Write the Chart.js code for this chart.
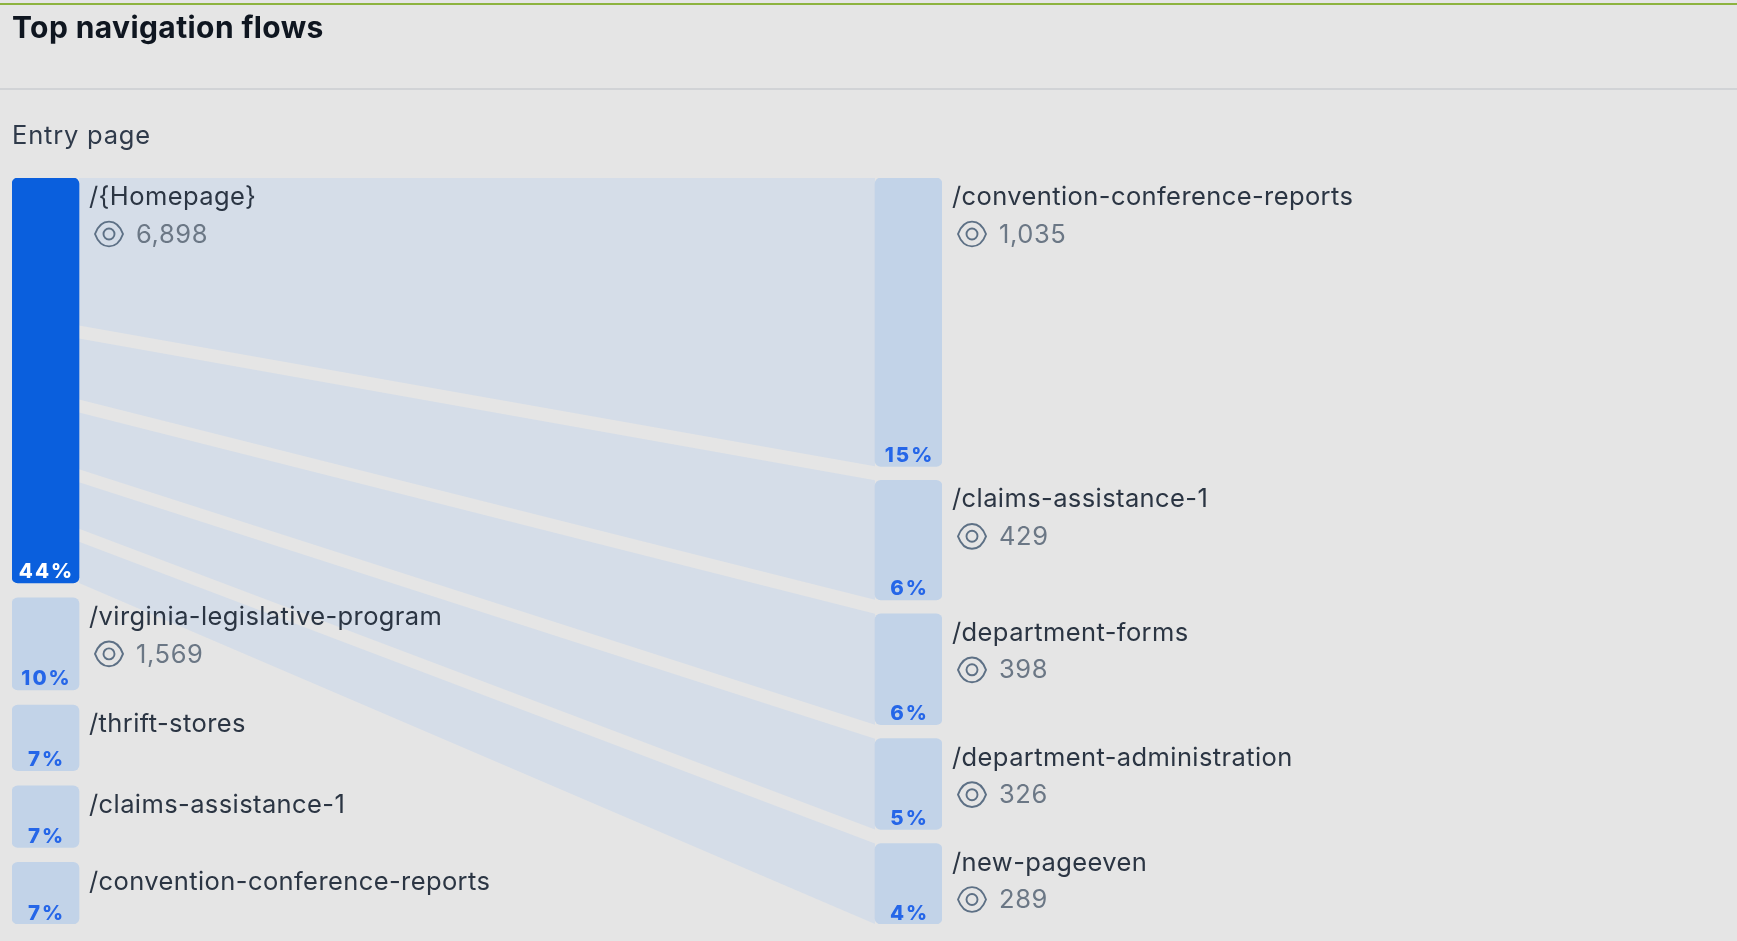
<!DOCTYPE html>
<html>
<head>
<meta charset="utf-8">
<script src="https://cdn.jsdelivr.net/npm/chart.js@4"></script>
<style>
  html, body { margin: 0; padding: 0; width: 1737px; height: 941px; overflow: hidden; background: #e5e5e5; }
  body { position: relative; font-family: Inter, "Noto Sans", sans-serif; }
  #accent { position: absolute; left: 0; top: 3px; width: 100%; height: 1.5px; background: #8db33f; }
  #title { position: absolute; left: 12px; top: 7px; font: 700 30px/40px Inter, sans-serif; letter-spacing: 0.4px; color: #0f1620; filter: blur(0.4px); }
  #rule { position: absolute; left: 0; top: 88px; width: 100%; height: 1.5px; background: #d1d3d6; }
  #subtitle { position: absolute; left: 12px; top: 118px; font: 400 25.5px/34px Inter, sans-serif; letter-spacing: 0.8px; color: #2f3a4a; filter: blur(0.4px); }
  canvas { position: absolute; left: 0; top: 0; filter: blur(0.4px); }
</style>
</head>
<body>
<div id="accent"></div>
<div id="title">Top navigation flows</div>
<div id="rule"></div>
<div id="subtitle">Entry page</div>
<canvas id="c" width="1737" height="941"></canvas>
<script>
const entryPages = ['/{Homepage}', '/virginia-legislative-program', '/thrift-stores', '/claims-assistance-1', '/convention-conference-reports'];
const entryViews = [6898, 1569, 1120, 1050, 1050];
const entryShares = ['44%', '10%', '7%', '7%', '7%'];
const nextPages = ['/convention-conference-reports', '/claims-assistance-1', '/department-forms', '/department-administration', '/new-pageeven'];
const nextViews = [1035, 429, 398, 326, 289];
const nextShares = ['15%', '6%', '6%', '5%', '4%'];

const BAR_W = 67, ENTRY_GAP_PX = 15, NEXT_GAP_PX = 14, FLOW_GAP_PX = 13;
const AREA = { left: 12, right: 942, top: 178, bottom: 924 };
const AREA_H = AREA.bottom - AREA.top;
const STEP_PX = (AREA.right - AREA.left) - BAR_W;
const X_PAD = (BAR_W / 2) / STEP_PX;

const sum = a => a.reduce((s, v) => s + v, 0);

function stackColumn(views, gapPx) {
  const perPx = sum(views) / (AREA_H - gapPx * (views.length - 1));
  const gap = gapPx * perPx;
  const out = []; let pos = 0;
  views.forEach(v => { out.push([pos, pos + v]); pos += v + gap; });
  return { spans: out, max: pos - gap, perPx };
}
const entryCol = stackColumn(entryViews, ENTRY_GAP_PX);
const nextCol = stackColumn(nextViews, NEXT_GAP_PX);

const C_HOME = '#0a5fdd', C_NODE = '#c2d3e8', C_FLOW = '#d5dde8';

const datasets = [];
entryCol.spans.forEach((sp, i) => datasets.push({
  type: 'bar', order: 0, yAxisID: 'yEntry', grouped: false,
  data: [{ x: 0, y: sp }], barThickness: BAR_W, borderRadius: 6, borderSkipped: false,
  backgroundColor: i === 0 ? C_HOME : C_NODE,
  nodeLabel: entryPages[i], nodeViews: entryViews[i], nodeShare: entryShares[i], active: i === 0
}));
nextCol.spans.forEach((sp, i) => datasets.push({
  type: 'bar', order: 0, yAxisID: 'yNext', grouped: false,
  data: [{ x: 1, y: sp }], barThickness: BAR_W, borderRadius: 6, borderSkipped: false,
  backgroundColor: C_NODE,
  nodeLabel: nextPages[i], nodeViews: nextViews[i], nodeShare: nextShares[i], active: false
}));

// flows: leave the homepage bar (its share of the bar) and land on each next-page bar
const homeHeightInNext = entryViews[0] / entryCol.perPx * nextCol.perPx;
const flowGap = FLOW_GAP_PX * nextCol.perPx;
const flowScale = (homeHeightInNext - flowGap * (nextViews.length - 1)) / sum(nextViews);
let flowPos = 0;
nextCol.spans.forEach((sp, i) => {
  const h = nextViews[i] * flowScale;
  const xa = X_PAD, xb = 1 - X_PAD;
  datasets.push({ type: 'line', order: 1, yAxisID: 'yNext', pointRadius: 0, borderWidth: 0, fill: false,
    data: [{ x: xa, y: flowPos }, { x: xb, y: sp[0] }] });
  datasets.push({ type: 'line', order: 1, yAxisID: 'yNext', pointRadius: 0, borderWidth: 0, fill: '-1',
    backgroundColor: C_FLOW,
    data: [{ x: xa, y: flowPos + h }, { x: xb, y: sp[1] }] });
  flowPos += h + flowGap;
});

function eye(ctx, cx, cy) {
  ctx.save();
  ctx.strokeStyle = '#5d7085'; ctx.lineWidth = 1.9;
  ctx.beginPath();
  ctx.moveTo(cx - 14, cy);
  ctx.bezierCurveTo(cx - 8, cy - 16.5, cx + 8, cy - 16.5, cx + 14, cy);
  ctx.bezierCurveTo(cx + 8, cy + 16.5, cx - 8, cy + 16.5, cx - 14, cy);
  ctx.closePath(); ctx.stroke();
  ctx.beginPath(); ctx.arc(cx, cy, 5.5, 0, Math.PI * 2); ctx.stroke();
  ctx.restore();
}

const nodeLabels = {
  id: 'nodeLabels',
  afterDatasetsDraw(chart) {
    const ctx = chart.ctx;
    chart.data.datasets.forEach((ds, i) => {
      if (ds.type !== 'bar') return;
      const el = chart.getDatasetMeta(i).data[0];
      const top = Math.min(el.y, el.base), bottom = Math.max(el.y, el.base);
      const right = el.x + BAR_W / 2;
      ctx.save();
      ctx.textBaseline = 'middle'; ctx.textAlign = 'left';
      ctx.font = '400 25.5px Inter, sans-serif'; ctx.fillStyle = '#2b3543'; ctx.letterSpacing = '0.4px';
      ctx.fillText(ds.nodeLabel, right + 10, top + 19.5);
      if (bottom - top >= 75) {
        eye(ctx, right + 30, top + 56);
        ctx.font = '400 25.5px Inter, sans-serif'; ctx.fillStyle = '#6b7785'; ctx.letterSpacing = '0.6px';
        ctx.fillText(ds.nodeViews.toLocaleString('en-US'), right + 57, top + 57);
      }
      ctx.font = '800 20.5px Inter, sans-serif'; ctx.letterSpacing = '2px';
      ctx.textAlign = 'center'; ctx.textBaseline = 'alphabetic';
      ctx.fillStyle = ds.active ? '#ffffff' : '#2566e8';
      ctx.fillText(ds.nodeShare, el.x + 1, bottom - 4.5);
      ctx.restore();
    });
  }
};

new Chart(document.getElementById('c'), {
  type: 'bar',
  data: { datasets },
  options: {
    responsive: false, animation: false,
    layout: { padding: { left: AREA.left, right: 1737 - AREA.right, top: AREA.top, bottom: 941 - AREA.bottom } },
    plugins: { legend: { display: false }, tooltip: { enabled: false }, title: { display: false } },
    scales: {
      x: { type: 'linear', display: false, offset: false, min: -X_PAD, max: 1 + X_PAD },
      yEntry: { type: 'linear', display: false, reverse: true, min: 0, max: entryCol.max },
      yNext: { type: 'linear', display: false, reverse: true, min: 0, max: nextCol.max }
    }
  },
  plugins: [nodeLabels]
});
</script>
</body>
</html>
